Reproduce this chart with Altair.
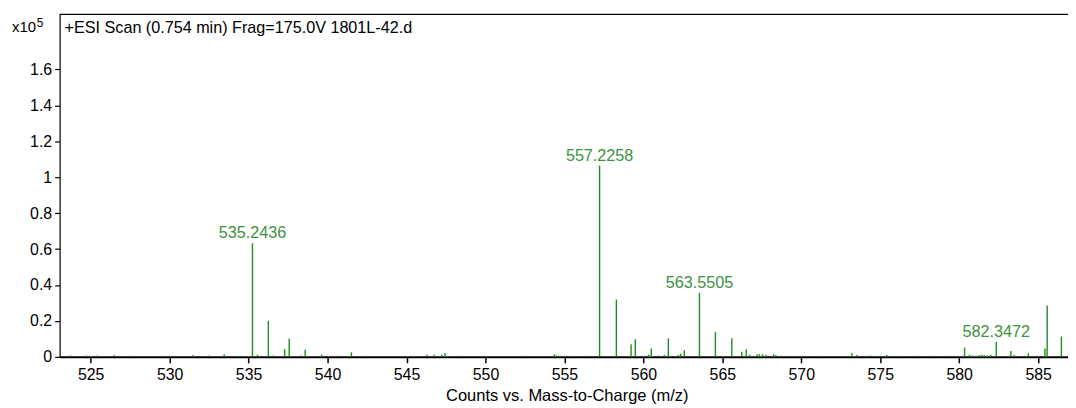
import altair as alt
import pandas as pd

# ---- data (m/z, counts x10^5) ----
mz = [523.72, 524.71, 525.38, 526.49, 527.43, 529.42, 531.47, 532.46, 533.45, 534.35,
      534.52, 535.2436, 535.56, 536.25, 536.56, 537.28, 537.57, 538.33, 538.58, 539.63,
      540.59, 541.51, 542.47, 545.45, 546.29, 546.75, 547.23, 547.44, 548.45, 552.37,
      554.36, 554.5, 554.71, 555.51, 556.35, 557.2258, 558.29, 559.22, 559.49, 560.33,
      560.5, 560.92, 561.33, 561.58, 562.21, 562.36, 562.59, 563.5505, 564.56, 565.6,
      566.23, 566.51, 566.72, 567.2, 567.35, 567.55, 567.77, 568.24, 568.39, 568.7,
      569.4, 571.22, 573.2, 573.52, 574.05, 574.37, 575.0, 575.41, 576.35, 577.4,
      578.34, 579.18, 580.34, 580.65, 580.86, 581.28, 581.45, 581.6, 581.8, 582.0,
      582.3472, 583.27, 583.48, 584.38, 585.43, 585.57, 586.47]
counts = [0.008, 0.008, 0.007, 0.010, 0.006, 0.006, 0.010, 0.007, 0.015, 0.006,
          0.006, 0.632, 0.012, 0.200, 0.008, 0.043, 0.101, 0.008, 0.040, 0.012,
          0.006, 0.025, 0.006, 0.006, 0.012, 0.012, 0.012, 0.022, 0.006, 0.006,
          0.014, 0.008, 0.006, 0.006, 0.006, 1.065, 0.319, 0.070, 0.098, 0.012,
          0.046, 0.008, 0.010, 0.103, 0.010, 0.018, 0.037, 0.356, 0.138, 0.103,
          0.028, 0.042, 0.012, 0.015, 0.015, 0.015, 0.010, 0.015, 0.010, 0.006,
          0.006, 0.006, 0.022, 0.010, 0.006, 0.008, 0.006, 0.010, 0.006, 0.006,
          0.006, 0.006, 0.052, 0.012, 0.008, 0.010, 0.012, 0.010, 0.008, 0.012,
          0.083, 0.033, 0.010, 0.020, 0.046, 0.286, 0.113]

label_mz = [535.2436, 557.2258, 563.5505, 582.3472]
label_counts = [0.632, 1.065, 0.356, 0.083]
label_text = ["535.2436", "557.2258", "563.5505", "582.3472"]

x_ticks = [525, 530, 535, 540, 545, 550, 555, 560, 565, 570, 575, 580, 585]
y_ticks = [0, 0.2, 0.4, 0.6, 0.8, 1.0, 1.2, 1.4, 1.6]

plot_title = "+ESI Scan (0.754 min) Frag=175.0V 1801L-42.d"
x_title = "Counts vs. Mass-to-Charge (m/z)"

FONT = "Liberation Sans"
LINE_GREEN = "#208a20"
TEXT_GREEN = "#3d923f"
W, H = 1016, 345

peaks = pd.DataFrame({"mz": mz, "counts": counts})
labels = pd.DataFrame({"mz": label_mz, "counts": label_counts, "label": label_text})

xscale = alt.Scale(domain=[523.03, 586.89], nice=False, zero=False)
yscale = alt.Scale(domain=[0, 1.906], nice=False)

xaxis = alt.Axis(values=x_ticks, format="d", grid=False, labelFont=FONT, labelFontSize=16,
                 labelColor="#000000", tickColor="#000000", tickSize=6, tickWidth=1.5,
                 domainColor="#000000", domainWidth=2, labelPadding=4,
                 title=x_title, titleFont=FONT, titleFontSize=16.6, titleFontWeight="normal",
                 titleColor="#000000", titleX=511, titleY=44, titleBaseline="alphabetic",
                 labelFlush=False, labelOverlap=False)
yaxis = alt.Axis(values=y_ticks, format=".1~f", grid=False, labelFont=FONT, labelFontSize=16,
                 labelColor="#000000", tickColor="#000000", tickSize=5, tickWidth=1.2,
                 domainColor="#000000", domainWidth=1.2, labelPadding=3, title="",
                 labelFlush=False, labelOverlap=False)

bars = alt.Chart(peaks).mark_rule(color=LINE_GREEN, strokeWidth=1.4).encode(
    x=alt.X("mz:Q", scale=xscale, axis=xaxis),
    y=alt.Y("counts:Q", scale=yscale, axis=yaxis),
    y2=alt.datum(0),
)

peak_labels = alt.Chart(labels).mark_text(
    color=TEXT_GREEN, font=FONT, fontSize=16.3, baseline="alphabetic", align="center", dy=-5
).encode(
    x=alt.X("mz:Q", scale=xscale),
    y=alt.Y("counts:Q", scale=yscale),
    text="label:N",
)

top_border = alt.Chart(pd.DataFrame({"a": [0]})).mark_rule(color="#000000", strokeWidth=1.2).encode(
    x=alt.value(0), x2=alt.value(W), y=alt.value(0)
)

title_txt = alt.Chart(pd.DataFrame({"t": [plot_title]})).mark_text(
    font=FONT, fontSize=16.3, align="left", baseline="alphabetic", color="#000000"
).encode(x=alt.value(5), y=alt.value(19), text="t:N")

x10_txt = alt.Chart(pd.DataFrame({"t": ["x10"]})).mark_text(
    font=FONT, fontSize=15, align="left", baseline="alphabetic", color="#000000"
).encode(x=alt.value(-48), y=alt.value(18), text="t:N")

exp_txt = alt.Chart(pd.DataFrame({"t": ["5"]})).mark_text(
    font=FONT, fontSize=12, align="left", baseline="alphabetic", color="#000000"
).encode(x=alt.value(-23), y=alt.value(13), text="t:N")

chart = alt.layer(bars, peak_labels, top_border, title_txt, x10_txt, exp_txt).properties(
    width=W, height=H,
    autosize=alt.AutoSizeParams(type="none"),
    padding={"left": 52, "top": 5, "right": 0, "bottom": 48},
    background="#ffffff",
).configure_view(strokeWidth=0)

chart.save("out.html", embed_options={"renderer": "svg", "actions": False})
